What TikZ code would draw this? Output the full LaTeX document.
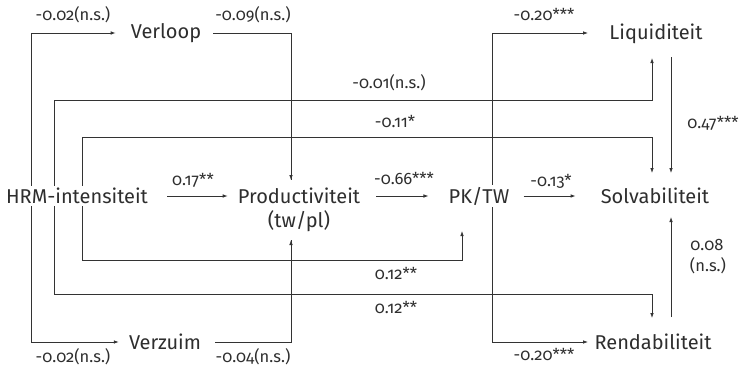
\documentclass[tikz,border=0pt]{standalone}
\usepackage{fontspec}
\setmainfont{Fira Sans}[Numbers=OldStyle]
\usetikzlibrary{arrows.meta}
\definecolor{ln}{HTML}{333333}
\definecolor{tx}{HTML}{2E2E2E}
\tikzset{
  x=1pt,y=-1pt,
  var/.style={font=\fontsize{20}{24}\selectfont, text=tx, inner xsep=0pt, inner ysep=2pt, fill=white},
  coef/.style={font=\fontsize{16.5}{19}\selectfont, text=tx, inner sep=0pt},
  con/.style={draw=ln, line width=0.8pt},
  arr/.style={con, -{Latex[length=5pt,width=3.6pt]}},
}
\begin{document}
\begin{tikzpicture}
\useasboundingbox (0,0) rectangle (743,372);
% coordinates of junctions
\coordinate (l1t) at (31,33);  \coordinate (l1b) at (31,342);
\coordinate (l2t) at (54,100); \coordinate (l2b) at (54,294);
\coordinate (l3t) at (82,137); \coordinate (l3b) at (82,260);
\coordinate (liqin) at (652,58);
\coordinate (solin1) at (652,173);
\coordinate (solin2) at (671,173);
\coordinate (solin3) at (671,217);
\coordinate (rendin) at (652,318);
\coordinate (liqout) at (671,57);
\coordinate (rendout) at (671,317);
\coordinate (pkin) at (462,231);
\coordinate (prodin1) at (291,180);
\coordinate (prodin2) at (291,240);
\coordinate (pkt) at (492,33); \coordinate (pkb) at (492,342);
\coordinate (liqarr) at (588,33);
\coordinate (rendarr) at (588,342);

% long connectors (drawn first, nodes with white fill cover them)
\draw[con] (l1t) -- (l1b);
\draw[con] (l2t) -- (l2b);
\draw[con] (l3t) -- (l3b);
\draw[arr] (l2t) -| (liqin);
\draw[arr] (l2b) -| (rendin);
\draw[arr] (l3t) -| (solin1);
\draw[arr] (l3b) -| (pkin);
\draw[arr] (pkt) -- (liqarr);
\draw[arr] (pkb) -- (rendarr);
\draw[con] (pkt) -- (pkb);
\draw[arr] (liqout) -- (solin2);
\draw[arr] (rendout) -- (solin3);

% variables
\node[var] (hrm) at (77,196) {HRM-intensiteit};
\node[var] (verloop) at (166,33) {Verloop};
\node[var] (verzuim) at (165,342) {Verzuim};
\node[var] (prod) at (299,196) {Productiviteit};
\node[var] (prod2) at (299,221) {(tw/pl)};
\node[var] (pk) at (479,196) {PK/TW};
\node[var] (liq) at (656,34) {Liquiditeit};
\node[var] (solv) at (655,196) {Solvabiliteit};
\node[var] (rend) at (653,342) {Rendabiliteit};

% short connectors
\draw[arr, shorten >=15pt] (l1t) -- (verloop.west);
\draw[arr, shorten >=10pt] (l1b) -- (verzuim.west);
\draw[con, shorten <=12pt] (verloop.east) -| (prodin1);
\draw[arr] (prodin1 |- verloop.east) -- (prodin1);
\draw[con, shorten <=14pt] (verzuim.east) -| (prodin2);
\draw[arr] (prodin2 |- verzuim.east) -- (prodin2);
\draw[arr, shorten <=19pt, shorten >=10pt] (hrm.east) -- (prod.west);
\draw[arr, shorten <=16pt, shorten >=20pt] (prod.east) -- (pk.west);
\draw[arr, shorten <=14pt, shorten >=25pt] (pk.east) -- (solv.west);

% coefficients
\node[coef] at (73,15) {-0.02(n.s.)};
\node[coef] at (73,357) {-0.02(n.s.)};
\node[coef] at (253,15) {-0.09(n.s.)};
\node[coef] at (253,357) {-0.04(n.s.)};
\node[coef] at (389,83) {-0.01(n.s.)};
\node[coef] at (395,121) {-0.11*};
\node[coef] at (193,180) {0.17**};
\node[coef] at (404,178) {-0.66***};
\node[coef] at (551,181) {-0.13*};
\node[coef] at (544,15) {-0.20***};
\node[coef] at (544,354) {-0.20***};
\node[coef] at (713,123) {0.47***};
\node[coef] at (707,245) {0.08};
\node[coef] at (708,266) {(n.s.)};
\node[coef] at (396,273) {0.12**};
\node[coef] at (396,307) {0.12**};
\end{tikzpicture}
\end{document}
